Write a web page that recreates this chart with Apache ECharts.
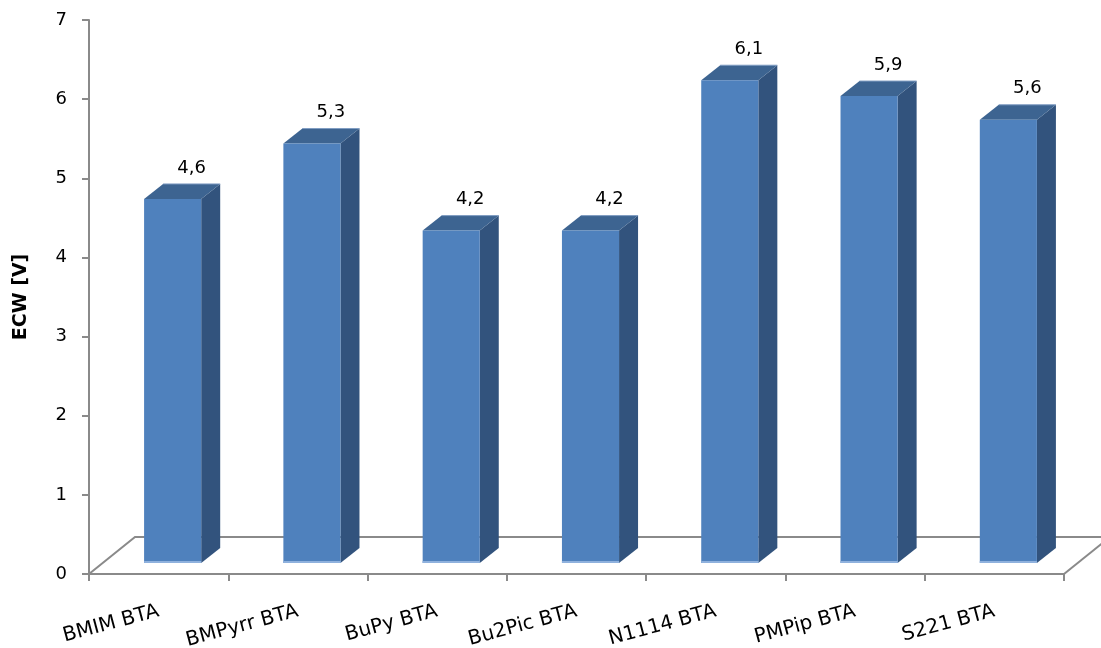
<!DOCTYPE html>
<html>
<head>
<meta charset="utf-8">
<script src="https://cdn.jsdelivr.net/npm/echarts@6/dist/echarts.min.js"></script>
<style>
  html, body { margin: 0; padding: 0; background: #fff; }
  #main { width: 1101px; height: 648px; }
</style>
</head>
<body>
<div id="main"></div>
<script>
// 数据
const categories = ['BMIM BTA', 'BMPyrr BTA', 'BuPy BTA', 'Bu2Pic BTA', 'N1114 BTA', 'PMPip BTA', 'S221 BTA'];
const ecwValues = [4.6, 5.3, 4.2, 4.2, 6.1, 5.9, 5.6];
const yTicks = [0, 1, 2, 3, 4, 5, 6, 7];

const FONT = 'DejaVu Sans';
const GRAY = '#8a8a8a';

// 3D bar look (pixel offsets of the fake depth)
const FRONT_X = 14, FRONT_Y = -11;   // bar front plane vs. axis plane
const DEPTH_X = 19, DEPTH_Y = -15;   // bar depth
const FLOOR_X = 46, FLOOR_Y = -37;   // floor depth

const chart = echarts.init(document.getElementById('main'));

const renderFloor = (params, api) => {
    const cs = params.coordSys;
    const x0 = cs.x, x1 = cs.x + cs.width, yb = cs.y + cs.height;
    const style = { stroke: GRAY, lineWidth: 2, fill: null };
    return {
        type: 'group',
        children: [
            { type: 'polyline', shape: { points: [[x0, yb], [x0 + FLOOR_X, yb + FLOOR_Y], [x1 + FLOOR_X, yb + FLOOR_Y]] }, style },
            { type: 'line', shape: { x1: x1, y1: yb, x2: x1 + FLOOR_X, y2: yb + FLOOR_Y }, style }
        ]
    };
};

const renderBar = (params, api) => {
    const top = api.coord([api.value(0), api.value(1)]);
    const base = api.coord([api.value(0), 0]);
    const w = api.size([1, 0])[0] * 0.41;
    const l = top[0] - w / 2 + FRONT_X;
    const r = l + w;
    const t = top[1] + FRONT_Y;
    const b = base[1] + FRONT_Y;
    const label = String(api.value(1)).replace('.', ',');
    return {
        type: 'group',
        children: [
            {
                type: 'polygon',
                shape: { points: [[r, t], [r + DEPTH_X, t + DEPTH_Y], [r + DEPTH_X, b + DEPTH_Y], [r, b]] },
                style: { fill: '#32537d' }
            },
            {
                type: 'polygon',
                shape: { points: [[l, t], [l + DEPTH_X, t + DEPTH_Y], [r + DEPTH_X, t + DEPTH_Y], [r, t]] },
                style: { fill: '#3d6491' }
            },
            {
                type: 'line',
                shape: { x1: l + DEPTH_X, y1: t + DEPTH_Y, x2: r + DEPTH_X, y2: t + DEPTH_Y },
                style: { stroke: '#7f9cc2', lineWidth: 1 }
            },
            {
                type: 'rect',
                shape: { x: l, y: t, width: w, height: b - t },
                style: { fill: '#4f81bd' }
            },
            {
                type: 'line',
                shape: { x1: l, y1: b - 1, x2: r, y2: b - 1 },
                style: { stroke: '#8fb1dd', lineWidth: 2 }
            },
            {
                type: 'text',
                x: (l + r) / 2 + DEPTH_X,
                y: t + DEPTH_Y - 16,
                style: {
                    text: label,
                    fill: '#000',
                    font: '18px "' + FONT + '"',
                    align: 'center',
                    verticalAlign: 'middle'
                }
            }
        ]
    };
};

chart.setOption({
    animation: false,
    backgroundColor: '#fff',
    grid: { left: 89, right: 37, top: 20, bottom: 74, containLabel: false, outerBoundsMode: 'none' },
    xAxis: {
        type: 'category',
        data: categories,
        boundaryGap: true,
        axisLine: { lineStyle: { color: GRAY, width: 2 } },
        axisTick: { show: true, length: 7, lineStyle: { color: GRAY, width: 2 } },
        axisLabel: {
            interval: 0,
            rotate: 15,
            margin: 37,
            color: '#000',
            fontFamily: FONT,
            fontSize: 20
        }
    },
    yAxis: {
        type: 'value',
        min: yTicks[0],
        max: yTicks[yTicks.length - 1],
        interval: 1,
        name: 'ECW [V]',
        nameLocation: 'middle',
        nameGap: 58,
        nameTextStyle: { fontFamily: FONT, fontSize: 19, fontWeight: 'bold', color: '#000' },
        axisLine: { show: true, lineStyle: { color: GRAY, width: 2 } },
        axisTick: { show: true, length: 7, lineStyle: { color: GRAY, width: 2 } },
        axisLabel: { margin: 22, color: '#000', fontFamily: FONT, fontSize: 18 },
        splitLine: { show: false }
    },
    series: [
        {
            type: 'custom',
            renderItem: renderFloor,
            data: [[0, 0]],
            clip: false,
            silent: true,
            z: 1
        },
        {
            type: 'custom',
            renderItem: renderBar,
            data: categories.map((c, i) => [i, ecwValues[i]]),
            clip: false,
            z: 2
        }
    ]
});
</script>
</body>
</html>
